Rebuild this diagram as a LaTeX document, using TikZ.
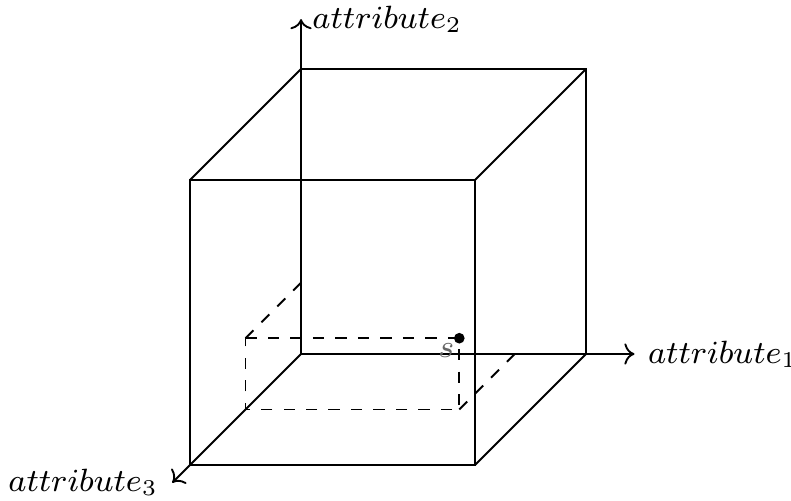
\RequirePackage{fix-cm}
\documentclass[tikz,border=0pt]{standalone}
\usepackage{amsmath}
\usepackage{tikz}
\usetikzlibrary{arrows.meta}

\begin{document}
\begin{tikzpicture}[x={(2.674cm,0cm)},y={(0cm,2.674cm)},z={(-1.041cm,-1.041cm)},
 font=\fontsize{8.6}{10}\selectfont,
 edge/.style={line width=.5pt,draw=black},
 ax/.style={->,line width=.5pt,draw=black},
 proj/.style={dashed,line width=.5pt,draw=black}]
\useasboundingbox (-2.824cm,-1.379cm) rectangle (4.597cm,3.321cm);
% cube corners
\coordinate (o) at (0,0,0);
\coordinate (b1) at (1,0,0);
\coordinate (b2) at (1,1,0);
\coordinate (b3) at (0,1,0);
\coordinate (f0) at (0,0,1);
\coordinate (f1) at (1,0,1);
\coordinate (f2) at (1,1,1);
\coordinate (f3) at (0,1,1);
% axis ends
\coordinate (e1) at (1.17,0,0);
\coordinate (e2) at (0,1.175,0);
\coordinate (e3) at (0,0,1.16);
% point s and its projections
\coordinate (s) at (.75,.25,.5);
\coordinate (sa) at (0,.25,.5);
\coordinate (sb) at (0,0,.5);
\coordinate (sc) at (.75,0,.5);
\coordinate (sd) at (0,.25,0);
\coordinate (se) at (.75,0,0);

\draw[edge] (f0) -- (f1) -- (f2) -- (f3) -- cycle;
\draw[edge] (b3) -- (b2) -- (b1);
\draw[edge] (f3) -- (b3);
\draw[edge] (f2) -- (b2);
\draw[edge] (f1) -- (b1);

\draw[proj] (sa) -- (s) -- (sc) -- (sb) -- cycle;
\draw[proj] (sa) -- (sd);
\draw[proj] (sc) -- (se);

\draw[ax] (o) -- (e1);
\draw[ax] (o) -- (e2);
\draw[ax] (o) -- (e3);
\node[anchor=west,inner sep=0pt,xshift=1.2mm] (l1) at (e1) {$attribute_1$};
\node[anchor=west,inner sep=0pt,xshift=1mm] (l2) at (e2) {$attribute_2$};
\node[anchor=east,inner sep=0pt,xshift=-1.3mm] (l3) at (e3) {$attribute_3$};

\fill (s) circle (.05cm);
\node[below left,inner sep=0pt,xshift=-.04cm,yshift=-.04cm,text=black!60] (ls) at (s) {$s$};
\end{tikzpicture}
\end{document}
